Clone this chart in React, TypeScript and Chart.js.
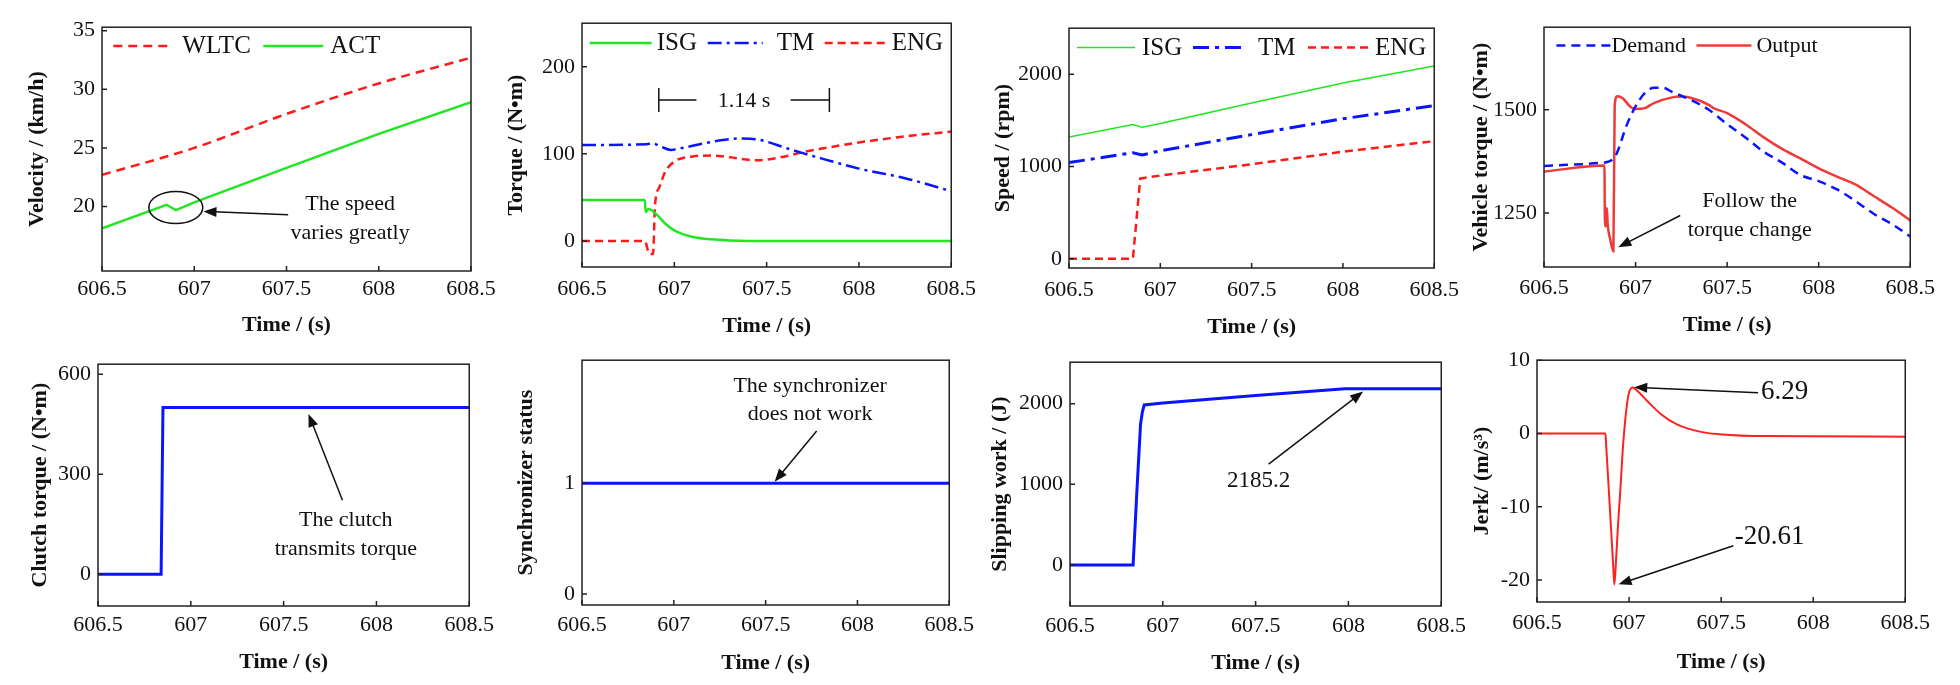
import { useEffect, useRef } from "react";
import { Chart, registerables } from "chart.js";

Chart.register(...registerables);

const SERIF = "'Liberation Serif', 'Times New Roman', serif";
Chart.defaults.font.family = SERIF;
Chart.defaults.color = "#111";

// shared time axis
const timeTicks = [606.5, 607, 607.5, 608, 608.5];

// (a) velocity
const wltcTime = [606.5, 607, 607.5, 608, 608.5];
const wltcSpeed = [22.7, 25.0, 27.9, 30.5, 32.7];
const actTime = [606.5, 606.85, 606.9, 607, 607.5, 608, 608.5];
const actSpeed = [18.15, 20.15, 19.7, 20.35, 23.3, 26.2, 28.9];

// (b) torque
const isgTqTime = [606.5, 606.84, 606.845, 606.86, 606.9, 606.95, 607, 607.05, 607.1, 607.2, 607.3, 607.4, 608.5];
const isgTq = [47, 47, 33, 36.5, 31, 20, 12, 7.5, 4.5, 1.8, 0.5, 0, 0];
const tmTqTime = [606.5, 606.85, 606.88, 606.93, 606.98, 607.05, 607.15, 607.25, 607.35, 607.45, 607.5, 607.6, 607.7, 607.8, 608, 608.25, 608.5];
const tmTq = [110, 111, 112, 108, 104.5, 107, 111.5, 115.5, 117.5, 116.5, 114, 107, 100.5, 94.5, 83, 72, 57];
const engTqTime = [606.5, 606.84, 606.865, 606.885, 606.895, 606.92, 606.95, 607, 607.1, 607.2, 607.3, 607.45, 607.6, 607.7, 607.8, 608, 608.25, 608.5];
const engTq = [0, 0, -15, -15, 40, 62, 79, 91, 97, 98, 96, 92.5, 97, 102, 106, 113, 120, 125.5];

// (c) speed
const spdTime = [606.5, 606.85, 606.9, 607, 607.5, 608, 608.5];
const isgSpd = [1321, 1455, 1425, 1467, 1690, 1905, 2090];
const tmSpd = [1043, 1150, 1125, 1171, 1346, 1518, 1661];
const engSpdTime = [606.5, 606.85, 606.89, 607, 607.5, 608, 608.5];
const engSpd = [0, 0, 870, 903, 1025, 1161, 1275];

// (d) vehicle torque
const demandTime = [606.5, 606.8, 606.85, 606.88, 606.9, 606.95, 607, 607.05, 607.1, 607.15, 607.2, 607.3, 607.4, 607.5, 607.6, 607.7, 607.8, 607.9, 608, 608.1, 608.2, 608.3, 608.4, 608.5];
const demandTq = [1364, 1371, 1374, 1382, 1397, 1461, 1508, 1540, 1553, 1553, 1543, 1524, 1500, 1465, 1433, 1398, 1372, 1342, 1327, 1307, 1279, 1248, 1223, 1193];
const outputTime = [606.5, 606.83, 606.833, 606.84, 606.843, 606.848, 606.862, 606.879, 606.886, 606.9, 606.93, 606.97, 607, 607.05, 607.1, 607.2, 607.25, 607.3, 607.4, 607.43, 607.5, 607.6, 607.7, 607.8, 607.9, 608, 608.1, 608.2, 608.3, 608.4, 608.5];
const outputTq = [1350, 1365, 1218, 1220, 1262, 1222, 1185, 1157, 1510, 1533, 1528, 1508, 1502, 1504, 1516, 1530, 1532, 1529, 1512, 1503, 1492, 1465, 1433, 1405, 1382, 1358, 1338, 1319, 1291, 1263, 1232];

// (e) clutch torque
const clutchTime = [606.5, 606.84, 606.85, 608.5];
const clutchTq = [0, 0, 500, 500];

// (f) synchronizer
const syncTime = [606.5, 608.5];
const syncStatus = [1, 1];

// (g) slipping work
const slipTime = [606.5, 606.84, 606.86, 606.88, 606.89, 606.9, 607, 607.5, 607.98, 608.5];
const slipWork = [0, 0, 900, 1745, 1900, 1985, 2008, 2101, 2185.2, 2185.2];

// (h) jerk
const jerkTime = [606.5, 606.872, 606.875, 606.896, 606.915, 606.92, 606.93, 606.94, 606.952, 606.965, 606.979, 606.997, 607.019, 607.05, 607.1, 607.17, 607.26, 607.39, 607.49, 607.74, 608, 608.5];
const jerk = [0, 0, -1.3, -10.3, -18.6, -20.61, -17, -12.5, -8, -2.5, 1.8, 5.3, 6.29, 5.7, 4.4, 2.7, 1.24, 0.22, -0.09, -0.36, -0.38, -0.44];

const RED = "#ff1a1a";
const GREEN = "#22e622";
const BLUE = "#0a14ff";
const PAD_TOP = 15;
const PAD_RIGHT = 30;

type Series = { label: string; t: number[]; v: number[]; color: string; width: number; dash?: number[]; smooth?: boolean };
type LegendItem = { label: string; color: string; width: number; dash?: number[]; lineX: number; lineLen: number; textX: number };
type Note = { x: number; y: number; lines: string[]; size?: number; gap?: number };
type Arrow = { x1: number; y1: number; x2: number; y2: number };

type PanelSpec = {
  area: { left: number; top: number; right: number; bottom: number };
  yW: number;
  xH: number;
  xPad: number;
  yTitle: string;
  yMin: number;
  yMax: number;
  yTicks: number[];
  series: Series[];
  legend?: { y: number; size: number; items: LegendItem[] };
  notes?: Note[];
  arrows?: Arrow[];
  ellipse?: { x: number; y: number; rx: number; ry: number };
  bracket?: { x1: number; a: number; b: number; x2: number; y: number; label: string; tx: number };
};

const panels: PanelSpec[] = [
  {
    area: { left: 101.7, top: 22, right: 471, bottom: 271 },
    yW: 76, xH: 65, xPad: 5,
    yTitle: "Velocity / (km/h)", yMin: 14.5, yMax: 35.3, yTicks: [20, 25, 30, 35],
    series: [
      { label: "WLTC", t: wltcTime, v: wltcSpeed, color: RED, width: 2.5, dash: [9, 6], smooth: true },
      { label: "ACT", t: actTime, v: actSpeed, color: GREEN, width: 2.5 },
    ],
    legend: {
      y: 18.7, size: 25,
      items: [
        { label: "WLTC", color: RED, width: 2.5, dash: [9, 6], lineX: 11.3, lineLen: 60, textX: 80.3 },
        { label: "ACT", color: GREEN, width: 2.5, lineX: 161.3, lineLen: 60, textX: 228.3 },
      ],
    },
    ellipse: { x: 606.9, y: 19.92, rx: 27, ry: 16 },
    notes: [{ x: 607.845, y: 20.23, lines: ["The speed", "varies greatly"], gap: 29 }],
    arrows: [{ x1: 607.509, y1: 19.3, x2: 607.05, y2: 19.58 }],
  },
  {
    area: { left: 582.3, top: 18.3, right: 955.7, bottom: 267.3 },
    yW: 77, xH: 70, xPad: 9,
    yTitle: "Torque / (N•m)", yMin: -30, yMax: 250, yTicks: [0, 100, 200],
    series: [
      { label: "ISG", t: isgTqTime, v: isgTq, color: GREEN, width: 2.5, smooth: true },
      { label: "TM", t: tmTqTime, v: tmTq, color: BLUE, width: 2.5, dash: [14, 5, 3, 5], smooth: true },
      { label: "ENG", t: engTqTime, v: engTq, color: RED, width: 2.5, dash: [8, 5], smooth: true },
    ],
    legend: {
      y: 19.7, size: 25,
      items: [
        { label: "ISG", color: GREEN, width: 2.5, lineX: 7.7, lineLen: 62, textX: 74.7 },
        { label: "TM", color: BLUE, width: 2.5, dash: [14, 5, 3, 5], lineX: 125.7, lineLen: 55, textX: 194.7 },
        { label: "ENG", color: RED, width: 2.5, dash: [8, 5], lineX: 242.7, lineLen: 62, textX: 309.7 },
      ],
    },
    bracket: { x1: 606.916, a: 607.12, b: 607.63, x2: 607.84, y: 161.8, label: "1.14 s", tx: 607.377 },
  },
  {
    area: { left: 1069, top: 22.7, right: 1437.7, bottom: 267.7 },
    yW: 77, xH: 70, xPad: 9,
    yTitle: "Speed / (rpm)", yMin: -100, yMax: 2500, yTicks: [0, 1000, 2000],
    series: [
      { label: "ISG", t: spdTime, v: isgSpd, color: GREEN, width: 1.5 },
      { label: "TM", t: spdTime, v: tmSpd, color: BLUE, width: 3, dash: [16, 6, 4, 6] },
      { label: "ENG", t: engSpdTime, v: engSpd, color: RED, width: 2.5, dash: [8, 5] },
    ],
    legend: {
      y: 19.3, size: 25,
      items: [
        { label: "ISG", color: GREEN, width: 1.5, lineX: 8, lineLen: 58, textX: 73 },
        { label: "TM", color: BLUE, width: 3, dash: [16, 6, 4, 6], lineX: 124, lineLen: 54, textX: 189 },
        { label: "ENG", color: RED, width: 2.5, dash: [8, 5], lineX: 239, lineLen: 60, textX: 306 },
      ],
    },
  },
  {
    area: { left: 1544.3, top: 22.3, right: 1913.7, bottom: 267.7 },
    yW: 74, xH: 69, xPad: 8,
    yTitle: "Vehicle torque / (N•m)", yMin: 1119, yMax: 1700, yTicks: [1250, 1500],
    series: [
      { label: "Demand", t: demandTime, v: demandTq, color: BLUE, width: 2.5, dash: [9, 6], smooth: true },
      { label: "Output", t: outputTime, v: outputTq, color: "#f03a3a", width: 2.5, smooth: true },
    ],
    legend: {
      y: 18.4, size: 22,
      items: [
        { label: "Demand", color: BLUE, width: 2.5, dash: [9, 6], lineX: 12.4, lineLen: 55, textX: 67.4 },
        { label: "Output", color: "#f03a3a", width: 2.5, lineX: 152.4, lineLen: 55, textX: 212.4 },
      ],
    },
    notes: [{ x: 607.623, y: 1279.3, lines: ["Follow the", "torque change"], gap: 29.3 }],
    arrows: [{ x1: 607.244, y1: 1243.8, x2: 606.906, y2: 1167 }],
  },
  {
    area: { left: 98.3, top: 359.3, right: 470.3, bottom: 606.7 },
    yW: 69, xH: 67, xPad: 6,
    yTitle: "Clutch torque / (N•m)", yMin: -95, yMax: 630, yTicks: [0, 300, 600],
    series: [{ label: "Clutch", t: clutchTime, v: clutchTq, color: BLUE, width: 3 }],
    notes: [{ x: 607.835, y: 161.8, lines: ["The clutch", "transmits torque"], gap: 29.3 }],
    arrows: [{ x1: 607.817, y1: 222, x2: 607.634, y2: 481 }],
  },
  {
    area: { left: 582.3, top: 355, right: 951.7, bottom: 605 },
    yW: 67, xH: 69, xPad: 7,
    yTitle: "Synchronizer status", yMin: -0.1, yMax: 2.11, yTicks: [0, 1],
    series: [{ label: "Sync", t: syncTime, v: syncStatus, color: BLUE, width: 3 }],
    notes: [{ x: 607.742, y: 1.874, lines: ["The synchronizer", "does not work"], gap: 28.3 }],
    arrows: [{ x1: 607.778, y1: 1.471, x2: 607.549, y2: 1.012 }],
  },
  {
    area: { left: 1070.3, top: 356.7, right: 1443.7, bottom: 605.7 },
    yW: 81, xH: 68, xPad: 7,
    yTitle: "Slipping work / (J)", yMin: -510, yMax: 2515, yTicks: [0, 1000, 2000],
    series: [{ label: "Work", t: slipTime, v: slipWork, color: BLUE, width: 3 }],
    notes: [{ x: 607.516, y: 1038, lines: ["2185.2"], size: 23 }],
    arrows: [{ x1: 607.57, y1: 1251, x2: 608.079, y2: 2150 }],
  },
  {
    area: { left: 1537, top: 355.3, right: 1908.3, bottom: 602.7 },
    yW: 66, xH: 71, xPad: 8,
    yTitle: "Jerk/ (m/s³)", yMin: -23, yMax: 10, yTicks: [-20, -10, 0, 10],
    series: [{ label: "Jerk", t: jerkTime, v: jerk, color: "#ff2020", width: 2, smooth: true }],
    notes: [
      { x: 607.845, y: 5.69, lines: ["6.29"], size: 27 },
      { x: 607.764, y: -14.13, lines: ["-20.61"], size: 27 },
    ],
    arrows: [
      { x1: 607.701, y1: 5.56, x2: 607.028, y2: 6.31 },
      { x1: 607.566, y1: -15.33, x2: 606.943, y2: -20.58 },
    ],
  },
];

const makeDecor = (spec: PanelSpec) => ({
  id: "decor",
  afterDraw(chart: any) {
    const { ctx, chartArea: a, scales } = chart;
    const xs = scales.x;
    const ys = scales.y;
    const px = (v: number) => xs.getPixelForValue(v);
    const py = (v: number) => ys.getPixelForValue(v);
    ctx.save();
    ctx.setLineDash([]);
    ctx.strokeStyle = "#222";
    ctx.lineWidth = 1.5;
    ctx.strokeRect(a.left, a.top, a.right - a.left, a.bottom - a.top);

    // inward tick marks
    ctx.beginPath();
    xs.ticks.forEach((t: any) => {
      const x = px(t.value);
      ctx.moveTo(x, a.bottom);
      ctx.lineTo(x, a.bottom - 5);
    });
    ys.ticks.forEach((t: any) => {
      const y = py(t.value);
      ctx.moveTo(a.left, y);
      ctx.lineTo(a.left + 5, y);
    });
    ctx.stroke();

    // legend inside the frame
    if (spec.legend) {
      const y = a.top + spec.legend.y;
      spec.legend.items.forEach((it) => {
        ctx.strokeStyle = it.color;
        ctx.lineWidth = it.width;
        ctx.setLineDash(it.dash ?? []);
        ctx.beginPath();
        ctx.moveTo(a.left + it.lineX, y);
        ctx.lineTo(a.left + it.lineX + it.lineLen, y);
        ctx.stroke();
        ctx.setLineDash([]);
        ctx.fillStyle = "#111";
        ctx.font = `${spec.legend!.size}px ${SERIF}`;
        ctx.textAlign = "left";
        ctx.textBaseline = "middle";
        ctx.fillText(it.label, a.left + it.textX, y + 1);
      });
    }

    ctx.strokeStyle = "#111";
    ctx.fillStyle = "#111";
    ctx.lineWidth = 1.5;
    ctx.setLineDash([]);

    if (spec.ellipse) {
      const e = spec.ellipse;
      ctx.beginPath();
      ctx.ellipse(px(e.x), py(e.y), e.rx, e.ry, 0, 0, Math.PI * 2);
      ctx.stroke();
    }

    if (spec.bracket) {
      const b = spec.bracket;
      const y = py(b.y);
      ctx.beginPath();
      ctx.moveTo(px(b.x1), y - 12);
      ctx.lineTo(px(b.x1), y + 12);
      ctx.moveTo(px(b.x1), y);
      ctx.lineTo(px(b.a), y);
      ctx.moveTo(px(b.b), y);
      ctx.lineTo(px(b.x2), y);
      ctx.moveTo(px(b.x2), y - 12);
      ctx.lineTo(px(b.x2), y + 12);
      ctx.stroke();
      ctx.font = `22px ${SERIF}`;
      ctx.textAlign = "center";
      ctx.textBaseline = "middle";
      ctx.fillText(b.label, px(b.tx), y + 1);
    }

    (spec.notes ?? []).forEach((n) => {
      ctx.font = `${n.size ?? 22}px ${SERIF}`;
      ctx.textAlign = "center";
      ctx.textBaseline = "middle";
      n.lines.forEach((line, i) => ctx.fillText(line, px(n.x), py(n.y) + i * (n.gap ?? 29)));
    });

    (spec.arrows ?? []).forEach((ar) => {
      const x1 = px(ar.x1), y1 = py(ar.y1), x2 = px(ar.x2), y2 = py(ar.y2);
      const ang = Math.atan2(y2 - y1, x2 - x1);
      const L = 13, W = 5;
      ctx.beginPath();
      ctx.moveTo(x1, y1);
      ctx.lineTo(x2 - Math.cos(ang) * L * 0.8, y2 - Math.sin(ang) * L * 0.8);
      ctx.stroke();
      ctx.beginPath();
      ctx.moveTo(x2, y2);
      ctx.lineTo(x2 - Math.cos(ang) * L - Math.sin(ang) * W, y2 - Math.sin(ang) * L + Math.cos(ang) * W);
      ctx.lineTo(x2 - Math.cos(ang) * L + Math.sin(ang) * W, y2 - Math.sin(ang) * L - Math.cos(ang) * W);
      ctx.closePath();
      ctx.fill();
    });
    ctx.restore();
  },
});

const buildConfig = (spec: PanelSpec): any => ({
  type: "line",
  data: {
    datasets: spec.series.map((s) => ({
      label: s.label,
      data: s.t.map((t, i) => ({ x: t, y: s.v[i] })),
      borderColor: s.color,
      borderWidth: s.width,
      borderDash: s.dash ?? [],
      pointRadius: 0,
      fill: false,
      tension: 0,
      cubicInterpolationMode: s.smooth ? "monotone" : "default",
    })),
  },
  options: {
    responsive: false,
    animation: false,
    events: [],
    layout: { padding: { top: PAD_TOP, right: PAD_RIGHT, left: 0, bottom: 0 } },
    plugins: { legend: { display: false }, tooltip: { enabled: false } },
    scales: {
      x: {
        type: "linear",
        min: 606.5,
        max: 608.5,
        afterBuildTicks: (s: any) => {
          s.ticks = timeTicks.map((value) => ({ value }));
        },
        afterFit: (s: any) => {
          s.height = spec.xH;
        },
        grid: { display: false, drawTicks: false },
        border: { display: false },
        ticks: {
          autoSkip: false,
          maxRotation: 0,
          padding: spec.xPad,
          font: { size: 22 },
          color: "#111",
          callback: (v: any) => String(v),
        },
        title: {
          display: true,
          text: "Time / (s)",
          font: { size: 22, weight: "bold", lineHeight: 1 },
          padding: 0,
          color: "#111",
        },
      },
      y: {
        type: "linear",
        min: spec.yMin,
        max: spec.yMax,
        afterBuildTicks: (s: any) => {
          s.ticks = spec.yTicks.map((value) => ({ value }));
        },
        afterFit: (s: any) => {
          s.width = spec.yW;
        },
        grid: { display: false, drawTicks: false },
        border: { display: false },
        ticks: {
          padding: 7,
          font: { size: 22 },
          color: "#111",
          callback: (v: any) => String(v),
        },
        title: {
          display: true,
          text: spec.yTitle,
          font: { size: 22, weight: "bold", lineHeight: 1 },
          padding: 0,
          color: "#111",
        },
      },
    },
  },
  plugins: [makeDecor(spec)],
});

const Panel = ({ spec }: { spec: PanelSpec }) => {
  const canvasRef = useRef<HTMLCanvasElement | null>(null);
  const { left, top, right, bottom } = spec.area;
  const w = Math.round(spec.yW + (right - left) + PAD_RIGHT);
  const h = Math.round(PAD_TOP + (bottom - top) + spec.xH);

  useEffect(() => {
    if (!canvasRef.current) return;
    const chart = new Chart(canvasRef.current, buildConfig(spec));
    return () => chart.destroy();
  }, [spec]);

  return (
    <canvas
      ref={canvasRef}
      width={w}
      height={h}
      style={{ position: "absolute", left: Math.round(left - spec.yW), top: Math.round(top - PAD_TOP), width: w, height: h }}
    />
  );
};

export default function App() {
  return (
    <div style={{ position: "absolute", left: 0, top: 0, width: 1960, height: 685, background: "#fff", overflow: "hidden" }}>
      {panels.map((p, i) => (
        <Panel key={i} spec={p} />
      ))}
    </div>
  );
}
